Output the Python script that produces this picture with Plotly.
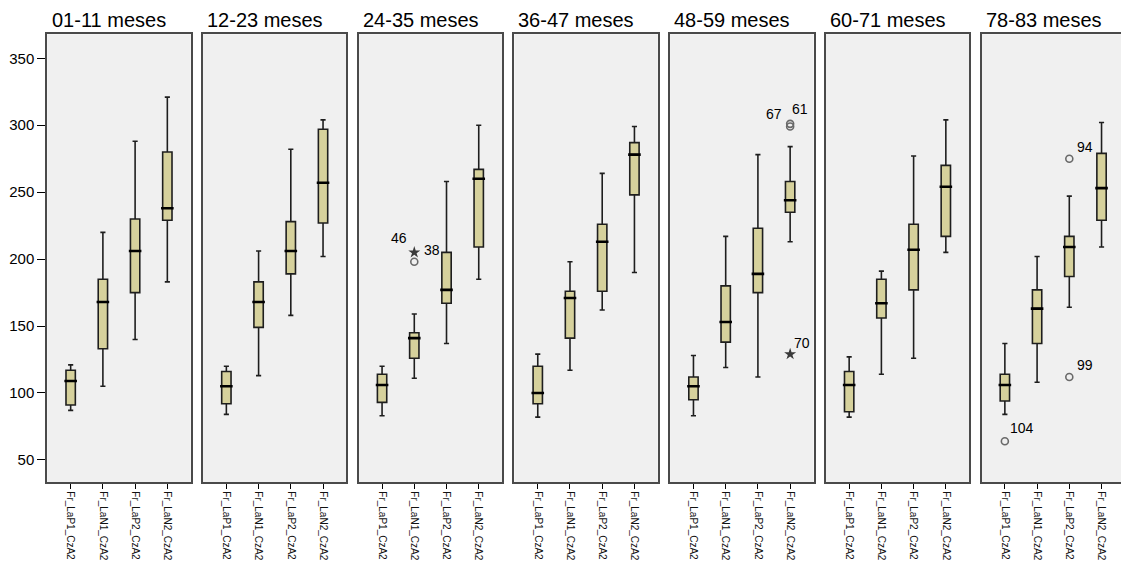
import plotly.graph_objects as go

W, H = 1121, 566

age_groups = ["01-11 meses", "12-23 meses", "24-35 meses", "36-47 meses",
              "48-59 meses", "60-71 meses", "78-83 meses"]
variables = ["Fr_LaP1_CzA2", "Fr_LaN1_CzA2", "Fr_LaP2_CzA2", "Fr_LaN2_CzA2"]

# per age group: values for [LaP1, LaN1, LaP2, LaN2]
whisker_low = [[87, 105, 140, 183], [84, 113, 158, 202], [83, 111, 137, 185],
               [82, 117, 162, 190], [83, 119, 112, 213], [82, 114, 126, 205],
               [84, 108, 164, 209]]
q1 = [[91, 133, 175, 229], [92, 149, 189, 227], [93, 126, 167, 209],
      [92, 141, 176, 248], [95, 138, 175, 235], [86, 156, 177, 217],
      [94, 137, 187, 229]]
median = [[109, 168, 206, 238], [105, 168, 206, 257], [106, 141, 177, 260],
          [100, 171, 213, 278], [105, 153, 189, 244], [106, 167, 207, 254],
          [106, 163, 209, 253]]
q3 = [[117, 185, 230, 280], [116, 183, 228, 297], [114, 145, 205, 267],
      [120, 176, 226, 287], [112, 180, 223, 258], [116, 185, 226, 270],
      [114, 177, 217, 279]]
whisker_high = [[121, 220, 288, 321], [120, 206, 282, 304], [120, 159, 258, 300],
                [129, 198, 264, 299], [128, 217, 278, 284], [127, 191, 277, 304],
                [137, 202, 247, 302]]

# outliers: panel index, variable index, value, kind
out_panel = [2, 2, 4, 4, 4, 6, 6, 6]
out_var = [1, 1, 3, 3, 3, 2, 2, 0]
out_value = [205, 198, 301, 299, 129, 275, 112, 64]
out_kind = ["star", "circle", "circle", "circle", "star", "circle", "circle", "circle"]

# outlier labels: panel, variable, anchor value, text, pixel shift
lab_panel = [2, 2, 4, 4, 4, 6, 6, 6]
lab_var = [1, 1, 3, 3, 3, 2, 2, 0]
lab_value = [205, 205, 300, 300, 129, 275, 112, 64]
lab_text = ["46", "38", "67", "61", "70", "94", "99", "104"]
lab_dx = [-15, 18, -16, 10, 12, 16, 16, 17]
lab_dy = [14, 2, 11, 16, 11, 12, 12, 13]

y_ticks = [50, 100, 150, 200, 250, 300, 350]

FONT = "Liberation Sans, Arial, Helvetica, sans-serif"
BOX_FILL = "rgb(214,209,156)"

panel_left0 = 47.3
pitch = 155.7
panel_w = 143.4
cat_px = panel_w / 4.45
top_px, bot_px = 34.3, 482.3
y_range = [33.3, 367.9]

fig = go.Figure()
annotations = []
layout = {}

for i, grp in enumerate(age_groups):
    n = "" if i == 0 else str(i + 1)
    xa, ya = "x" + n, "y" + n
    left = panel_left0 + i * pitch
    right = left + panel_w
    r_end = 3.725
    if right > W:
        r_end = -0.725 + (W - left) / cat_px
        right = W
    fig.add_trace(go.Box(
        x=variables, q1=q1[i], median=median[i], q3=q3[i],
        lowerfence=whisker_low[i], upperfence=whisker_high[i],
        fillcolor=BOX_FILL, line=dict(color="#1e1e1e", width=1.6),
        width=0.29, whiskerwidth=0.55, boxpoints=False,
        xaxis=xa, yaxis=ya, showlegend=False, hoverinfo="skip"))
    fig.add_trace(go.Scatter(
        x=variables, y=median[i], mode="markers",
        marker=dict(symbol="line-ew", size=9, line=dict(color="black", width=2.6)),
        xaxis=xa, yaxis=ya, showlegend=False, hoverinfo="skip"))
    for kind in ["circle", "star"]:
        xs = [variables[out_var[k]] for k in range(len(out_panel))
              if out_panel[k] == i and out_kind[k] == kind]
        ys = [out_value[k] for k in range(len(out_panel))
              if out_panel[k] == i and out_kind[k] == kind]
        if xs:
            if kind == "circle":
                mk = dict(symbol="circle-open", size=7, color="#6a6a6a",
                          line=dict(width=1.6, color="#6a6a6a"))
            else:
                mk = dict(symbol="star", size=9, color="#3a3a3a")
            fig.add_trace(go.Scatter(x=xs, y=ys, mode="markers", marker=mk,
                                     xaxis=xa, yaxis=ya, showlegend=False,
                                     hoverinfo="skip"))
    for k in range(len(lab_panel)):
        if lab_panel[k] == i:
            annotations.append(dict(
                x=variables[lab_var[k]], y=lab_value[k], xref=xa, yref=ya,
                text=lab_text[k], showarrow=False, xshift=lab_dx[k],
                yshift=lab_dy[k], font=dict(family=FONT, size=14, color="black")))
    annotations.append(dict(
        x=(left + 62) / W, y=1 - 20 / H, xref="paper", yref="paper",
        text=grp, showarrow=False, xanchor="center", yanchor="middle",
        font=dict(family=FONT, size=20, color="black")))

    layout["xaxis" + n] = dict(
        domain=[left / W, right / W], anchor=ya, type="category",
        range=[-0.725, r_end], showgrid=False, zeroline=False,
        showline=True, mirror=True, linecolor="#4a4a4a", linewidth=2,
        ticks="outside", ticklen=5, tickwidth=1.3, tickcolor="black",
        tickangle=90, tickfont=dict(family=FONT, size=10, color="#111"),
        fixedrange=True)
    layout["yaxis" + n] = dict(
        domain=[1 - bot_px / H, 1 - top_px / H], anchor=xa,
        range=y_range, showgrid=False, zeroline=False,
        showline=True, mirror=(right < W), linecolor="#4a4a4a", linewidth=2,
        tickvals=y_ticks if i == 0 else [],
        ticks="outside" if i == 0 else "", ticklen=8, tickwidth=1.3,
        tickcolor="black", showticklabels=(i == 0),
        tickfont=dict(family=FONT, size=15, color="black"), fixedrange=True)

fig.update_layout(
    width=W, height=H, margin=dict(l=0, r=0, t=0, b=0),
    paper_bgcolor="white", plot_bgcolor="#f0f0f0",
    annotations=annotations, **layout)

fig.write_html("out.html",
               config={"displayModeBar": False},
               post_script="document.body.style.margin='0';"
                           "document.body.style.overflow='hidden';")
